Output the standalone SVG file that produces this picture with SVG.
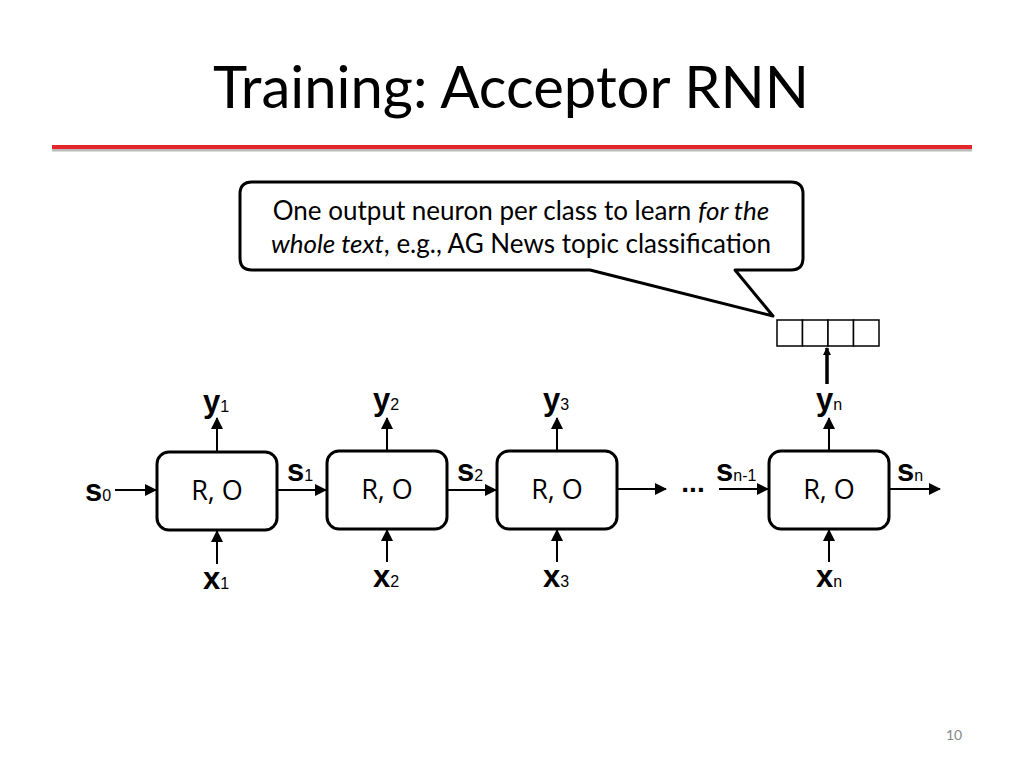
<svg xmlns="http://www.w3.org/2000/svg" width="1024" height="768" viewBox="0 0 1024 768">
<defs>
<marker id="ah" markerWidth="12" markerHeight="12" refX="11" refY="6" orient="auto" markerUnits="userSpaceOnUse" viewBox="0 0 12 12"><path d="M0,0 L12,6 L0,12 z" fill="#000"/></marker>
<marker id="ah2" markerWidth="8" markerHeight="8" refX="7" refY="4" orient="auto" markerUnits="userSpaceOnUse" viewBox="0 0 8 8"><path d="M0,0 L8,4 L0,8 z" fill="#000"/></marker>
</defs>
<style>
.box{fill:#fff;stroke:#000;stroke-width:3}
.ro{font-family:"Open Sans","Liberation Sans",sans-serif;font-size:27px;text-anchor:middle}
.v{font-family:"Liberation Sans",sans-serif;font-size:31px;font-weight:bold}
.sub{font-family:"Liberation Sans",sans-serif;font-size:16px;font-weight:normal}
.c{stroke:#000;stroke-width:2;fill:none;marker-end:url(#ah)}
.cl{font-family:Lato,"Liberation Sans",sans-serif;font-size:26px;text-anchor:middle}
</style>
<rect width="1024" height="768" fill="#fff"/>
<text x="511" y="108" font-family="Lato,'Liberation Sans',sans-serif" font-size="58" text-anchor="middle">Training: Acceptor RNN</text>
<line x1="52" y1="150" x2="972" y2="150" stroke="#bbb" stroke-width="3"/>
<line x1="52" y1="147" x2="972" y2="147" stroke="#e3262b" stroke-width="4"/>
<g id="callout">
<path d="M252,182 H791 Q803,182 803,194 V258 Q803,270 791,270 H735 L773,316 L590,270 H252 Q240,270 240,258 V194 Q240,182 252,182 Z" fill="#fff" stroke="#000" stroke-width="3" stroke-linejoin="round"/>
<text class="cl" x="521" y="220">One output neuron per class to learn <tspan font-style="italic">for the</tspan></text>
<text class="cl" x="521" y="253"><tspan font-style="italic">whole text</tspan>, e.g., AG News topic classification</text>
</g>
<g id="output-vector" fill="#fff" stroke="#000" stroke-width="1.5">
<rect x="777" y="320" width="25.5" height="26"/><rect x="802.5" y="320" width="25.5" height="26"/><rect x="828" y="320" width="25.5" height="26"/><rect x="853.5" y="320" width="25.5" height="26"/>
</g>
<g id="node1"><rect class="box" x="157" y="452" width="120" height="78" rx="12"/><text class="ro" x="217" y="500">R, O</text></g>
<g id="node2"><rect class="box" x="327" y="451" width="120" height="78" rx="12"/><text class="ro" x="387" y="499">R, O</text></g>
<g id="node3"><rect class="box" x="497" y="451" width="120" height="78" rx="12"/><text class="ro" x="557" y="499">R, O</text></g>
<g id="node4"><rect class="box" x="769" y="451" width="120" height="78" rx="12"/><text class="ro" x="829" y="499">R, O</text></g>
<g id="connectors">
<line class="c" x1="115" y1="490" x2="156" y2="490"/>
<line class="c" x1="278" y1="490" x2="326" y2="490"/>
<line class="c" x1="448" y1="490" x2="496" y2="490"/>
<line class="c" x1="618" y1="489" x2="666" y2="489"/>
<line class="c" x1="719" y1="489" x2="768" y2="489"/>
<line class="c" x1="890" y1="489" x2="940" y2="489"/>
<line class="c" x1="217" y1="451" x2="217" y2="418"/>
<line class="c" x1="387" y1="450" x2="387" y2="418"/>
<line class="c" x1="557" y1="450" x2="557" y2="418"/>
<line class="c" x1="829" y1="450" x2="829" y2="418"/>
<line class="c" x1="217" y1="564" x2="217" y2="531"/>
<line class="c" x1="387" y1="562" x2="387" y2="530"/>
<line class="c" x1="557" y1="562" x2="557" y2="530"/>
<line class="c" x1="829" y1="562" x2="829" y2="530"/>
<line x1="827" y1="384" x2="827" y2="348" stroke="#000" stroke-width="3.5" marker-end="url(#ah2)"/>
</g>
<g id="labels">
<text class="v" x="203" y="412">y<tspan class="sub">1</tspan></text>
<text class="v" x="373" y="410">y<tspan class="sub">2</tspan></text>
<text class="v" x="543" y="410">y<tspan class="sub">3</tspan></text>
<text class="v" x="816" y="410">y<tspan class="sub">n</tspan></text>
<text class="v" x="203" y="589">x<tspan class="sub">1</tspan></text>
<text class="v" x="373" y="587">x<tspan class="sub">2</tspan></text>
<text class="v" x="543" y="587">x<tspan class="sub">3</tspan></text>
<text class="v" x="816" y="587">x<tspan class="sub">n</tspan></text>
<text class="v" x="85" y="501">s<tspan class="sub">0</tspan></text>
<text class="v" x="287" y="481">s<tspan class="sub">1</tspan></text>
<text class="v" x="457" y="481">s<tspan class="sub">2</tspan></text>
<text class="v" x="716" y="481">s<tspan class="sub">n-1</tspan></text>
<text class="v" x="897" y="481">s<tspan class="sub">n</tspan></text>
<text x="693" y="492" font-family="Liberation Sans,sans-serif" font-size="28" font-weight="bold" text-anchor="middle">...</text>
</g>
<text x="954" y="740" font-family="Lato,'Liberation Sans',sans-serif" font-size="14" fill="#888" text-anchor="middle">10</text>
</svg>
